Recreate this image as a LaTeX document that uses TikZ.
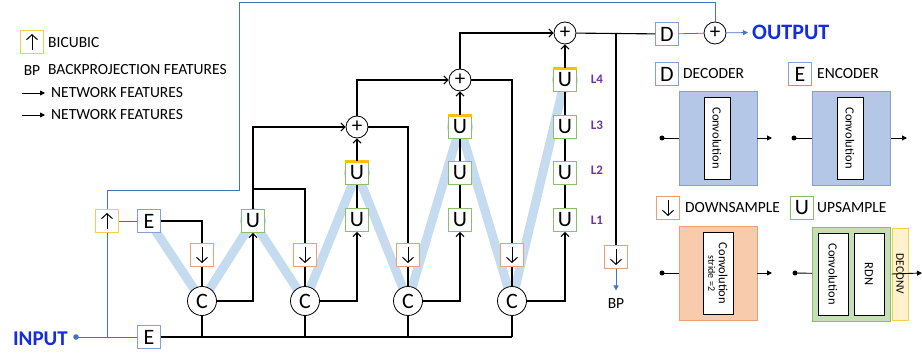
\documentclass[tikz,border=0pt]{standalone}
\usepackage{fontspec}
\setmainfont{Carlito}
\usepackage{tikz}
\usetikzlibrary{arrows.meta,backgrounds}

\definecolor{encline}{RGB}{132,160,212}
\definecolor{encfill}{RGB}{180,199,231}
\definecolor{upline}{RGB}{140,190,110}
\definecolor{upfill}{RGB}{197,224,180}
\definecolor{downline}{RGB}{232,160,118}
\definecolor{downfill}{RGB}{248,203,173}
\definecolor{bicline}{RGB}{240,208,80}
\definecolor{deconvfill}{RGB}{255,242,204}
\definecolor{bandblue}{RGB}{196,219,240}
\definecolor{linkblue}{RGB}{68,114,196}
\definecolor{titleblue}{RGB}{20,45,225}
\definecolor{lvlpurple}{RGB}{112,48,160}
\definecolor{baryellow}{RGB}{255,192,0}

\tikzset{
  wire/.style={line width=1.1pt, black},
  feed/.style={line width=0.8pt, linkblue},
  arr/.style={-{Straight Barb[length=4pt,width=8pt]}},
  glyph/.style={draw=black, line width=1pt, -{Straight Barb[length=5pt,width=11pt]}},
  smallbox/.style={minimum width=23pt, minimum height=23pt, inner sep=0pt, fill=white,
    line width=0.8pt, font=\fontsize{22}{22}\selectfont},
  encbox/.style={smallbox, draw=encline},
  upbox/.style={smallbox, draw=upline},
  downbox/.style={smallbox, draw=downline, path picture={
    \draw[glyph] ([yshift=-3.5pt]path picture bounding box.north)
      -- ([yshift=3.5pt]path picture bounding box.south);}},
  bicbox/.style={smallbox, draw=bicline, path picture={
    \draw[glyph] ([yshift=3.5pt]path picture bounding box.south)
      -- ([yshift=-3.5pt]path picture bounding box.north);}},
  catnode/.style={circle, draw, fill=white, minimum size=29pt, inner sep=0pt,
    line width=0.8pt, font=\fontsize{22}{22}\selectfont},
  sumnode/.style={circle, draw, fill=white, minimum size=22pt, inner sep=0pt,
    line width=0.8pt, font=\fontsize{21}{21}\selectfont},
  keytext/.style={anchor=west, inner sep=0pt, font=\fontsize{15.5}{15.5}\selectfont},
  lvltag/.style={font=\bfseries\fontsize{13}{13}\selectfont, text=lvlpurple},
  unit/.style={line width=0.8pt, minimum width=78pt, minimum height=94pt, inner sep=0pt},
  convbox/.style={draw, fill=white, line width=0.8pt, rotate=-90, inner sep=0pt,
    minimum width=82pt, minimum height=26pt, font=\fontsize{12.5}{12.5}\selectfont},
  io/.style={line width=0.9pt, -{Triangle[length=5pt,width=5pt]}}
}

\begin{document}
\begin{tikzpicture}[x=1pt,y=-1pt]
\useasboundingbox (0,0) rectangle (922,358);

\node[bicbox] (keyBic) at (32,42) {};
\node[keytext] (keyBicText) at (48,43) {BICUBIC};
\node[font=\fontsize{15.5}{15.5}\selectfont] (keyBP) at (32,71) {BP};
\node[keytext] (keyBPText) at (48,70) {BACKPROJECTION FEATURES};
\node[keytext] (keyNetA) at (51,93) {NETWORK FEATURES};
\node[keytext] (keyNetB) at (51,115) {NETWORK FEATURES};
\coordinate (keyArrA) at (22,93);
\coordinate (keyArrB) at (22,115);
\draw[io, shorten >=6pt] (keyArrA) -- (keyNetA);
\draw[io, shorten >=6pt] (keyArrB) -- (keyNetB);

\node[font=\bfseries\fontsize{21}{21}\selectfont, text=titleblue, anchor=east, inner sep=0pt] (inText) at (68,339) {INPUT};
\coordinate (input) at (76,337);
\node[encbox] (encIn) at (149,337) {E};
\node[bicbox] (bic) at (107,221) {};
\node[encbox] (encTop) at (149,221) {E};

\node[downbox] (dn1) at (202,255) {};
\node[downbox] (dn2) at (305,255) {};
\node[downbox] (dn3) at (408,255) {};
\node[downbox] (dn4) at (512,255) {};
\node[downbox] (dnBP) at (616,257) {};
\node[font=\fontsize{15.5}{15.5}\selectfont] (bpText) at (616,304) {BP};

\node[catnode] (cat1) at (202,301) {C};
\node[catnode] (cat2) at (305,301) {C};
\node[catnode] (cat3) at (408,301) {C};
\node[catnode] (cat4) at (512,301) {C};

\node[upbox] (up1) at (253,221) {U};
\node[upbox] (u2a) at (357,220) {U};
\node[upbox] (u2b) at (357,173) {U};
\node[sumnode] (sum2) at (357,127) {+};
\node[upbox] (u3a) at (460,220) {U};
\node[upbox] (u3b) at (460,173) {U};
\node[upbox] (u3c) at (460,127) {U};
\node[sumnode] (sum3) at (460,80) {+};
\node[upbox] (u4a) at (565,220) {U};
\node[upbox] (u4b) at (565,173) {U};
\node[upbox] (u4c) at (565,127) {U};
\node[upbox] (u4d) at (565,80) {U};
\node[sumnode] (sum4) at (565,33) {+};
\node[lvltag] (lvl1) at (597,220) {L1};
\node[lvltag] (lvl2) at (597,170) {L2};
\node[lvltag] (lvl3) at (597,125) {L3};
\node[lvltag] (lvl4) at (597,79) {L4};

\node[encbox] (dec) at (667,34) {D};
\node[sumnode] (sumOut) at (715,33) {+};
\node[font=\bfseries\fontsize{22}{22}\selectfont, text=titleblue, anchor=west, inner sep=0pt] (outText) at (752,32) {OUTPUT};

\begin{scope}[on background layer]
  \draw[bandblue, line width=9pt, line join=round] (encTop.center) -- (cat1.center) -- (up1.center)
    -- (cat2.center) -- (u2b.center) -- (cat3.center) -- (u3c.center) -- (cat4.center) -- (u4d.center);
  \foreach \n in {up1,u2b,u3c,u4d} \fill[bandblue] (\n) circle (13);
\end{scope}
\foreach \n in {u2b,u3c,u4d} \draw[baryellow, line width=3pt] (\n.north west) -- (\n.north east);

\fill[linkblue] (input) circle (2.8);
\coordinate (feedA) at (107,190);
\coordinate (feedB) at (239,2);
\draw[feed] (input) -- (encIn);
\draw[feed] (bic |- input) -- (bic);
\draw[feed] (bic) -- (encTop);
\draw[feed] (bic) -- (feedA) -| (feedB) -| (sumOut);
\draw[feed] (dec) -- (sumOut);
\draw[feed, -{Triangle[length=5pt,width=5pt]}, shorten >=4pt] (sumOut) -- (outText);
\draw[feed, -{Triangle[length=5pt,width=5pt]}, shorten >=5pt] (dnBP) -- (bpText);

\draw[wire] (encIn) -- (cat4 |- encIn);
\foreach \n in {cat1,cat2,cat3,cat4} \draw[wire] (\n) -- (\n |- encIn);
\draw[wire] (encTop) -| (dn1);
\draw[wire] (dn1) -- (cat1);
\draw[wire, arr] (cat1) -| (up1);
\draw[wire, arr] (up1) |- (sum2);
\coordinate (j1) at (253,189);
\draw[wire] (j1) -| (dn2);
\draw[wire] (dn2) -- (cat2);
\draw[wire, arr] (cat2) -| (u2a);
\draw[wire] (u2a) -- (u2b);
\draw[wire, arr] (u2b) -- (sum2);
\draw[wire] (sum2) -| (dn3);
\draw[wire, arr] (sum2) |- (sum3);
\draw[wire] (dn3) -- (cat3);
\draw[wire, arr] (cat3) -| (u3a);
\draw[wire] (u3a) -- (u3b) -- (u3c);
\draw[wire, arr] (u3c) -- (sum3);
\draw[wire] (sum3) -| (dn4);
\draw[wire, arr] (sum3) |- (sum4);
\draw[wire] (dn4) -- (cat4);
\draw[wire, arr] (cat4) -| (u4a);
\draw[wire] (u4a) -- (u4b) -- (u4c) -- (u4d);
\draw[wire, arr] (u4d) -- (sum4);
\draw[wire] (sum4) -- (dec);
\draw[wire] (sum4 -| dnBP) -- (dnBP);

\node[encbox] (keyDec) at (667,74) {D};
\node[keytext] (keyDecText) at (683,74) {DECODER};
\node[encbox] (keyEnc) at (800,74) {E};
\node[keytext] (keyEncText) at (817,74) {ENCODER};
\node[downbox] (keyDown) at (668,208) {};
\node[keytext] (keyDownText) at (685,208) {DOWNSAMPLE};
\node[upbox] (keyUp) at (802,208) {U};
\node[keytext] (keyUpText) at (817,208) {UPSAMPLE};

\node[unit, draw=encline, fill=encfill] (decUnit) at (718,138) {};
\node[convbox] (decConv) at (717,138) {Convolution};
\node[unit, draw=encline, fill=encfill] (encUnit) at (851.5,138) {};
\node[convbox] (encConv) at (850,138) {Convolution};
\node[unit, draw=downline, fill=downfill] (downUnit) at (718,273) {};
\node[convbox, minimum height=30pt, align=center] (downConv) at (718,273.5) {Convolution\\[-2pt]{\fontsize{10}{10}\selectfont stride =2}};
\node[unit, draw=upline, fill=upfill] (upUnit) at (851.5,274) {};
\node[convbox, minimum height=30pt] (upConv) at (833,274) {Convolution};
\node[convbox, minimum height=30pt] (upRDN) at (869,274) {RDN};
\node[convbox, draw=bicline, fill=deconvfill, minimum width=92pt, minimum height=16pt, font=\fontsize{11.5}{11.5}\selectfont] (upDeconv) at (900,274) {DECONV};

\coordinate (decIn) at (662,138);
\coordinate (decOut) at (772,138);
\coordinate (encIn2) at (794,138);
\coordinate (encOut) at (907,138);
\coordinate (downIn) at (662,273);
\coordinate (downOut) at (772,273);
\coordinate (upIn) at (795,273);
\coordinate (upOut) at (922,273);
\foreach \n in {decIn,encIn2,downIn,upIn} \fill (\n) circle (2.5);
\draw[line width=0.9pt] (decIn) -- (decUnit);
\draw[io] (decUnit) -- (decOut);
\draw[line width=0.9pt] (encIn2) -- (encUnit);
\draw[io] (encUnit) -- (encOut);
\draw[line width=0.9pt] (downIn) -- (downUnit);
\draw[io] (downUnit) -- (downOut);
\draw[line width=0.9pt] (upIn) -- (upUnit);
\draw[io] (upDeconv.south) -- (upOut);
\end{tikzpicture}
\end{document}
